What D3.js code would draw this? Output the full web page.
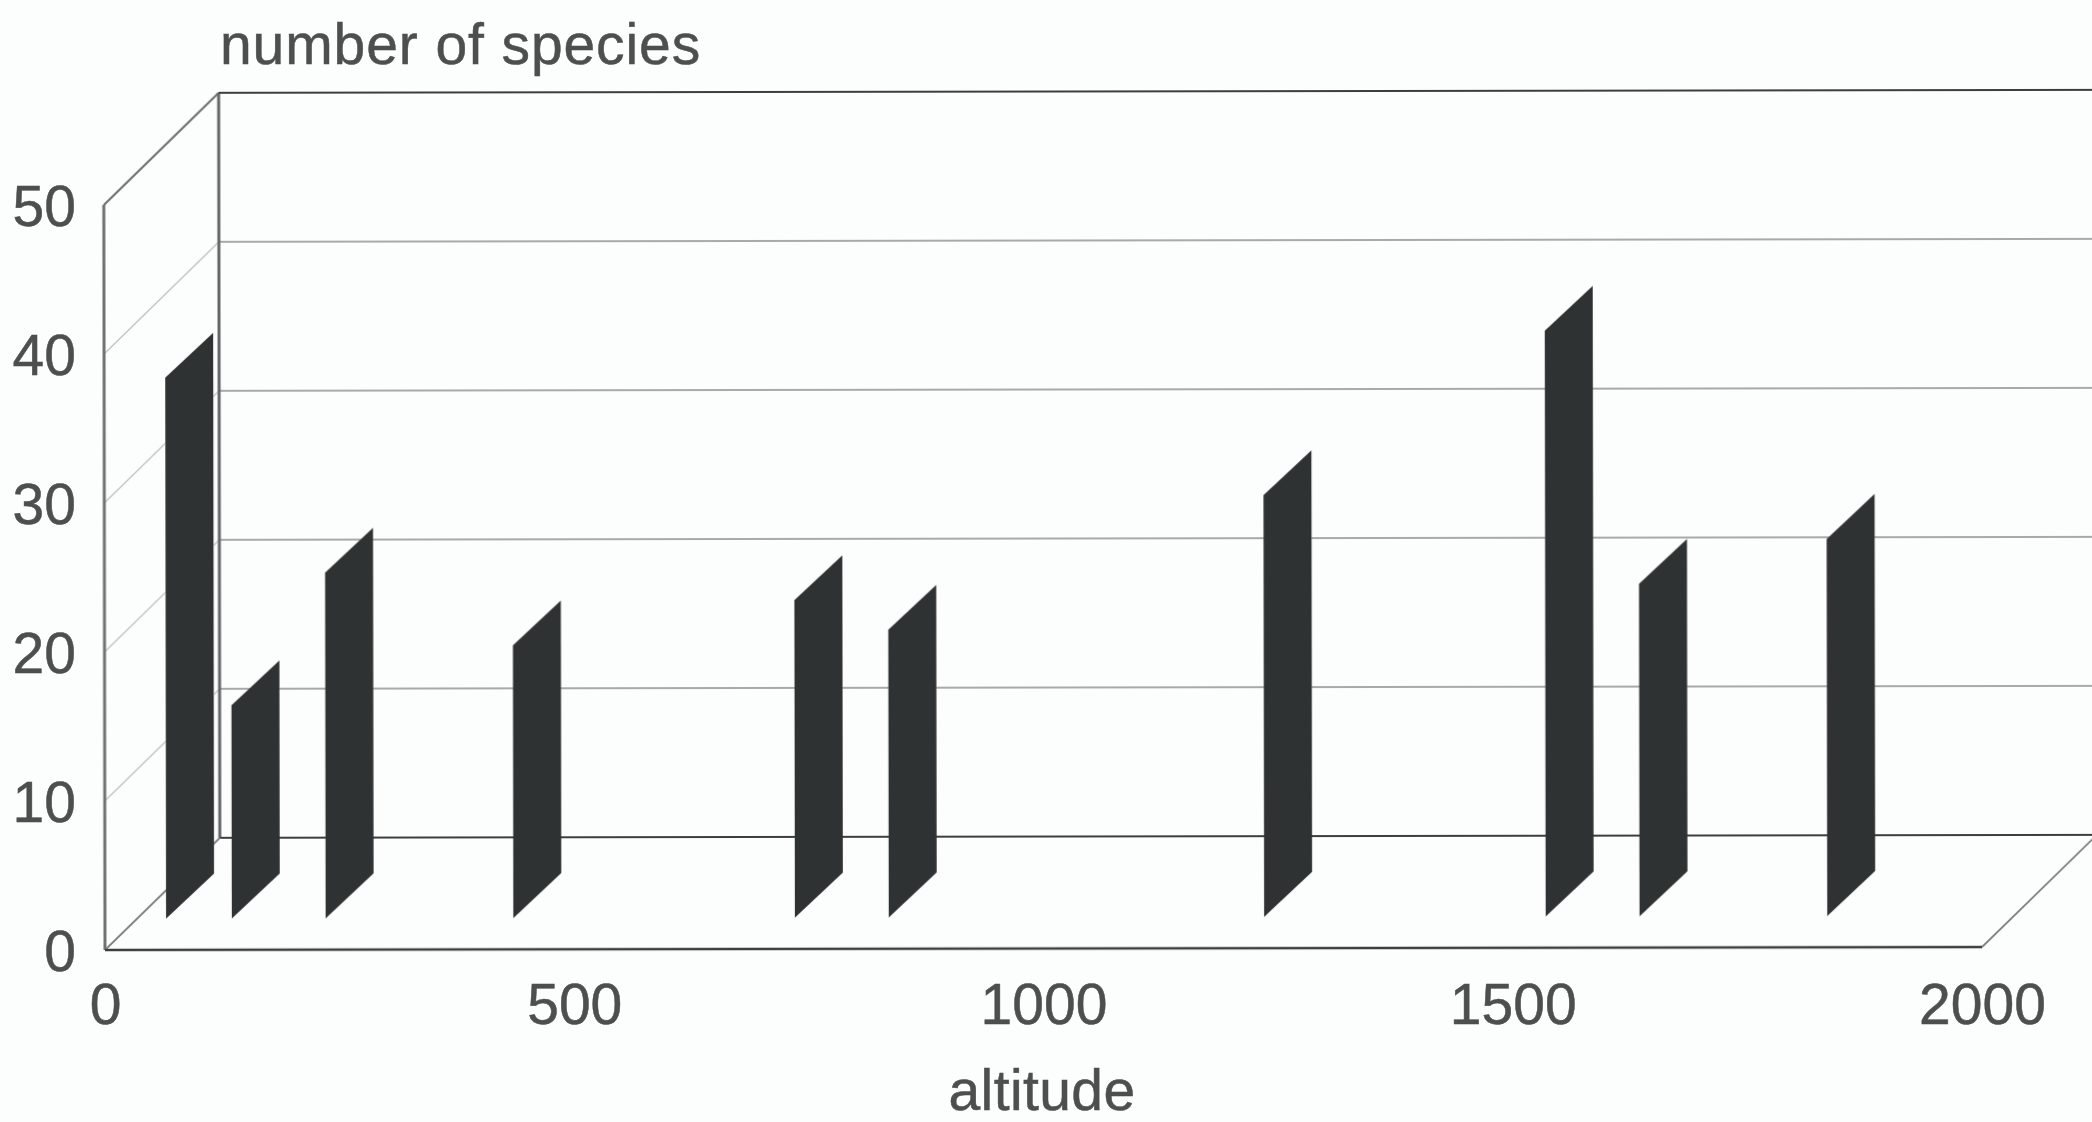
<!DOCTYPE html>
<html>
<head>
<meta charset="utf-8">
<script src="https://d3js.org/d3.v7.min.js"></script>
<style>
  html, body { margin: 0; padding: 0; background: #fcfdfd; }
  text { font-family: "Liberation Sans", sans-serif; fill: #4d4f4f; stroke: #4d4f4f; stroke-width: 0.5px; }
</style>
</head>
<body>
<div id="chart"></div>
<script>
// values
let altitudes = [30, 100, 200, 400, 700, 800, 1200, 1500, 1600, 1800];
let speciesCounts = [36.3, 14.3, 23.2, 18.3, 21.3, 19.3, 28.3, 39.3, 22.3, 25.3];
let xTicks = [0, 500, 1000, 1500, 2000];
let yTicks = [0, 10, 20, 30, 40, 50];

let svgWidth = 2092;
let svgHeight = 1122;
let fontSize = 57;

let svg = d3
  .select("#chart")
  .append("svg")
  .attr("width", svgWidth)
  .attr("height", svgHeight)
  .style("display", "block");

let defs = svg.append("defs");
defs.append("filter")
  .attr("id", "scan")
  .append("feGaussianBlur")
  .attr("stdDeviation", 0.5);

// the scan is very slightly tilted
let chartGroup = svg.append("g")
  .attr("filter", "url(#scan)")
  .attr("transform", "rotate(-0.09 105 950)");

let xScale = d3.scaleLinear().domain([0, 2000]).range([105, 1982]);
let yScale = d3.scaleLinear().domain([0, 50]).range([950, 205]);

// depth of the box: 0 is the front plane, 1 the back wall
let depthX = d3.scaleLinear().domain([0, 1]).range([0, 115]);
let depthY = d3.scaleLinear().domain([0, 1]).range([0, -112]);

function project(x, y, z) {
  return [xScale(x) + depthX(z), yScale(y) + depthY(z)];
}

let line = d3.line();

function addLine(points, color, strokeWidth) {
  chartGroup.append("path")
    .attr("d", line(points))
    .attr("fill", "none")
    .attr("stroke", color)
    .attr("stroke-width", strokeWidth);
}

// gridlines on the side wall and on the back wall
yTicks.slice(1, -1).forEach(function(t) {
  addLine([project(0, t, 0), project(0, t, 1)], "#c4c6c6", 1.5);
  addLine([project(0, t, 1), project(2000, t, 1)], "#8c8e8e", 1.6);
});

// box outline
addLine([project(0, 0, 0), project(0, 50, 0)], "#707272", 3);
addLine([project(0, 50, 0), project(0, 50, 1)], "#707272", 2.2);
addLine([project(0, 0, 1), project(0, 50, 1)], "#646666", 3);
addLine([project(0, 50, 1), project(2000, 50, 1)], "#3c3e3e", 2);
addLine([project(0, 0, 1), project(2000, 0, 1)], "#3c3e3e", 2);
addLine([project(0, 0, 0), project(0, 0, 1)], "#808282", 1.8);
addLine([project(2000, 0, 0), project(2000, 0, 1)], "#808282", 1.8);
addLine([project(0, 0, 0), project(2000, 0, 0)], "#3c3e3e", 2.4);

// each bar is a flat ribbon running into the depth of the box,
// it comes out a bit wider than the box slope would give
let barFront = 0.28;
let barBack = 0.68;
let barDepthX = d3.scaleLinear().domain([barFront, barBack]).range([33, 81]);

function barPoint(x, y, z) {
  return [xScale(x) + barDepthX(z), yScale(y) + depthY(z)];
}

chartGroup.selectAll(".bar")
  .data(altitudes)
  .enter()
  .append("path")
  .classed("bar", true)
  .attr("d", function(d, i) {
    return line([
      barPoint(d, 0, barFront),
      barPoint(d, speciesCounts[i], barFront),
      barPoint(d, speciesCounts[i], barBack),
      barPoint(d, 0, barBack)
    ]) + "Z";
  })
  .attr("fill", "#2f3131");

// axes
let bottomAxis = d3.axisBottom(xScale)
  .tickValues(xTicks)
  .tickFormat(d3.format("d"))
  .tickSize(0)
  .tickPadding(34);

let leftAxis = d3.axisLeft(yScale)
  .tickValues(yTicks)
  .tickSize(0)
  .tickPadding(29);

let xAxis = svg.append("g")
  .attr("transform", "translate(0, 950)")
  .call(bottomAxis);

let yAxis = svg.append("g")
  .attr("transform", "translate(105, 2)")
  .call(leftAxis);

[xAxis, yAxis].forEach(function(axis) {
  axis.select(".domain").remove();
  axis.attr("font-family", null).attr("font-size", null);
  axis.selectAll("text").style("font-size", fontSize + "px");
});

// axis titles
svg.append("text")
  .attr("x", 220)
  .attr("y", 64)
  .style("font-size", fontSize + "px")
  .style("letter-spacing", "0.9px")
  .text("number of species");

svg.append("text")
  .attr("x", 1042)
  .attr("y", 1110)
  .attr("text-anchor", "middle")
  .style("font-size", fontSize + "px")
  .style("letter-spacing", "0.4px")
  .text("altitude");
</script>
</body>
</html>
